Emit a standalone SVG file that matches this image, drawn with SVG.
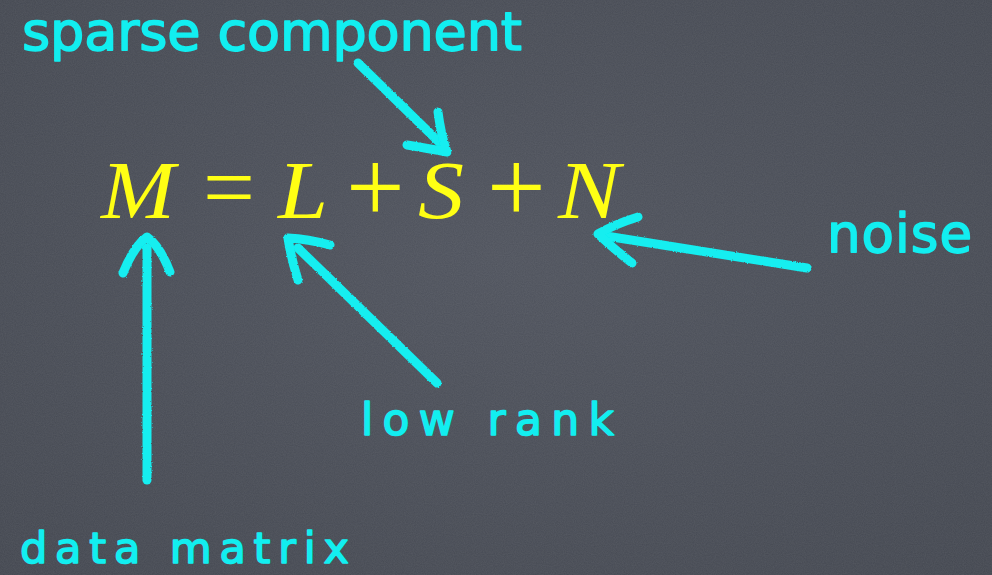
<svg xmlns="http://www.w3.org/2000/svg" width="992" height="575" viewBox="0 0 992 575">
<style>
.lbl{font-family:"DejaVu Sans","Liberation Sans",sans-serif;fill:#12eef0;stroke:#12eef0;stroke-width:1.6px;stroke-linejoin:round;}
.math{font-family:"Liberation Serif","DejaVu Serif",serif;fill:#ffff14;font-size:82px;}
.it{font-style:italic;}
.arr{fill:none;stroke:#12eef0;stroke-width:9;stroke-linecap:round;stroke-linejoin:round;}
</style>
<defs>
<radialGradient id="bg" cx="50%" cy="45%" r="75%">
<stop offset="0" stop-color="#4f535d"/>
<stop offset="1" stop-color="#434750"/>
</radialGradient>
<filter id="tex" x="0" y="0" width="100%" height="100%">
<feTurbulence type="fractalNoise" baseFrequency="0.9" numOctaves="2" seed="3" result="n"/>
<feColorMatrix in="n" type="matrix" values="0 0 0 0 1  0 0 0 0 1  0 0 0 0 1  0 0 0 0.08 0"/>
</filter>
<filter id="chalk" x="-10%" y="-10%" width="120%" height="120%">
<feTurbulence type="fractalNoise" baseFrequency="0.8" numOctaves="1" seed="5" result="t"/>
<feDisplacementMap in="SourceGraphic" in2="t" scale="2.5" xChannelSelector="R" yChannelSelector="G"/>
</filter>
</defs>
<rect width="992" height="575" fill="url(#bg)"/>
<rect width="992" height="575" filter="url(#tex)"/>

<g id="formula">
<text class="math it" x="101" y="218" textLength="74" lengthAdjust="spacingAndGlyphs">M</text>
<text class="math" x="203" y="218" style="font-size:92px" textLength="52" lengthAdjust="spacingAndGlyphs">=</text>
<text class="math it" x="278" y="218" textLength="50" lengthAdjust="spacingAndGlyphs">L</text>
<text class="math" x="346" y="222" style="font-size:104px">+</text>
<text class="math it" x="418" y="218" textLength="46" lengthAdjust="spacingAndGlyphs">S</text>
<text class="math" x="487" y="222" style="font-size:104px">+</text>
<text class="math it" x="558" y="218" textLength="62" lengthAdjust="spacingAndGlyphs">N</text>
</g>

<g id="sparse-component">
<text class="lbl" x="22" y="50" font-size="54" textLength="500" lengthAdjust="spacing">sparse component</text>
</g>
<g id="noise">
<text class="lbl" x="827" y="252" font-size="53" textLength="145" lengthAdjust="spacing">noise</text>
</g>
<g id="low-rank">
<text class="lbl" x="361" y="435" font-size="44" textLength="253" lengthAdjust="spacing">low rank</text>
</g>
<g id="data-matrix">
<text class="lbl" x="20" y="563" font-size="43" textLength="329" lengthAdjust="spacing">data matrix</text>
</g>

<g id="connectors" filter="url(#chalk)">
<path class="arr" d="M358,63 L440,143"/>
<path class="arr" d="M438,112 Q441,135 447,152 Q425,148 407,145"/>
<path class="arr" d="M147,480 L147,248"/>
<path class="arr" d="M123,273 Q134,246 147,237 Q160,246 170,272"/>
<path class="arr" d="M437,383 L298,248"/>
<path class="arr" d="M298,280 Q291,258 288,238 Q308,239 330,245"/>
<path class="arr" d="M807,268 L606,236"/>
<path class="arr" d="M638,217 Q615,224 598,234 Q615,250 632,263"/>
</g>
</svg>
